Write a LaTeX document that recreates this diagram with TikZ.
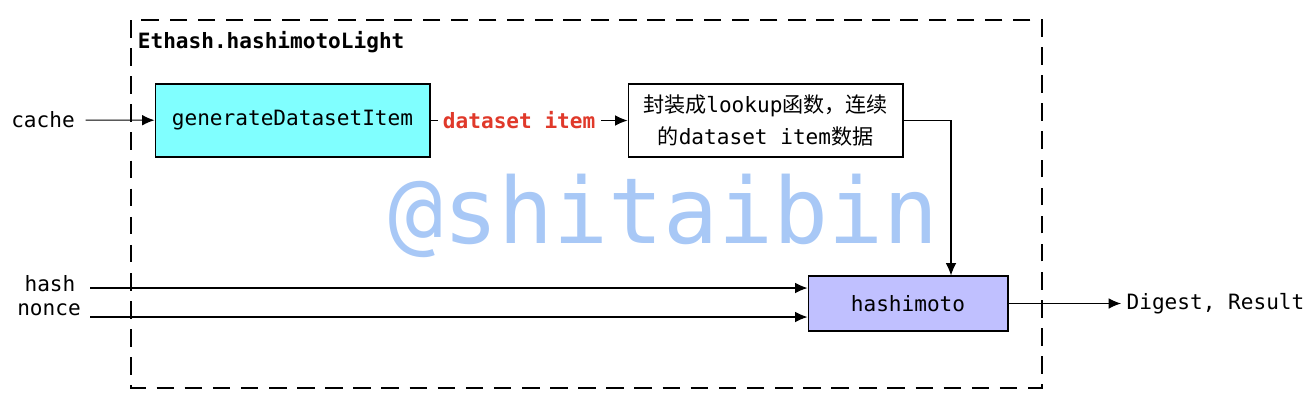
\documentclass[tikz,border=0pt]{standalone}
\usepackage{fontspec}
\setmainfont{DejaVu Sans Mono}
\setmonofont{DejaVu Sans Mono}
\newfontfamily\cjk{Noto Sans CJK SC}
\usetikzlibrary{arrows.meta}
\definecolor{gencyan}{HTML}{80FFFF}
\definecolor{hashblue}{HTML}{C0C0FF}
\definecolor{itemred}{HTML}{E0392A}
\definecolor{markblue}{HTML}{A8C8F6}

\begin{document}
\begin{tikzpicture}[x=0.02cm, y=-0.02cm,
		every node/.style={font=\fontsize{12}{18}\selectfont},
		func/.style={draw, line width=0.6pt, minimum width=5.5cm, minimum height=1.46cm, inner sep=0pt, align=center},
		flow/.style={-{Latex[length=7pt,width=6pt]}, line width=0.6pt},
		inlabel/.style={inner sep=6pt}]
		
		\useasboundingbox (0,0) rectangle (1312,410);
		
		% watermark
		\node[text=markblue, font=\fontsize{52}{52}\selectfont, anchor=base] (mark) at (664,243) {@shitaibin};
		
		% the Ethash.hashimotoLight frame
		\draw[dash pattern=on 10pt off 6pt, line width=0.7pt] (131,20) rectangle (1042,388);
		\node[anchor=west, inner sep=2pt, font=\fontsize{12}{18}\selectfont\bfseries] (title) at (134,42) {Ethash.hashimotoLight};
		
		\node[func, fill=gencyan] (gen) at (292.5,120.5) {generateDatasetItem};
		\node[func] (lookup) at (765.5,120.5) {{\cjk 封装成}lookup{\cjk 函数，连续}\\{\cjk 的}dataset item{\cjk 数据}};
		\node[func, fill=hashblue, minimum width=4cm, minimum height=1.1cm] (hashimoto) at (908,303.5) {hashimoto};
		
		% inputs and output
		\node[inlabel] (cache) at (43,120) {cache};
		\node[inlabel] (hash) at (50,284) {hash};
		\node[inlabel] (nonce) at (49,310) {nonce};
		\node[inner sep=3pt] (digest) at (1215.5,303.5) {Digest, Result};
		\coordinate (hashin) at (90,288);
		\coordinate (noncein) at (90,317);
		
		\draw[flow] (cache) -- (gen);
		\draw[flow] (gen) -- node[pos=0.45, fill=white, text=itemred, inner sep=3pt, font=\fontsize{12}{18}\selectfont\bfseries] (item) {dataset item} (lookup);
		\draw[flow] (lookup.east) -| ([xshift=0.86cm]hashimoto.north);
		\draw[flow] (hashin) -- (hashin -| hashimoto.west);
		\draw[flow] (noncein) -- (noncein -| hashimoto.west);
		\draw[flow] (hashimoto.east) -- (hashimoto.east -| digest.west);
		
\end{tikzpicture}
\end{document}
